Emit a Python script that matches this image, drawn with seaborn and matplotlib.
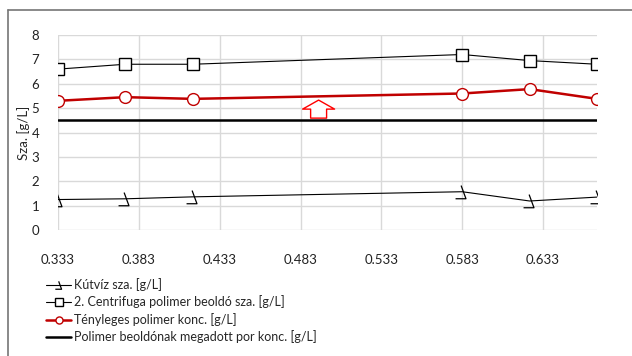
import numpy as np
import matplotlib
matplotlib.use("Agg")
import matplotlib.pyplot as plt
import seaborn as sns
from matplotlib.path import Path
from matplotlib.lines import Line2D

# data
x = [1/3, 0.375, 5/12, 7/12, 0.625, 2/3]
kutviz = [1.25, 1.28, 1.36, 1.57, 1.19, 1.35]
centrifuga = [6.6, 6.8, 6.8, 7.2, 6.95, 6.8]
tenyleges = [5.3, 5.45, 5.38, 5.6, 5.78, 5.38]
megadott = [4.5, 4.5, 4.5, 4.5, 4.5, 4.5]

labels = ["Kútvíz sza. [g/L]",
          "2. Centrifuga polimer beoldó sza. [g/L]",
          "Tényleges polimer konc. [g/L]",
          "Polimer beoldónak megadott por konc. [g/L]"]
xticks = [1/3 + 0.05 * k for k in range(7)]

sns.set_style("whitegrid")
plt.rcParams['font.family'] = ['Lato', 'DejaVu Sans']
plt.rcParams['font.size'] = 9

# slash + underscore marker like the Excel one
slash = Path([(-0.2, 1.0), (0.5, -0.9), (-1.0, -0.9)],
             [Path.MOVETO, Path.LINETO, Path.LINETO])

fig = plt.figure(figsize=(6.32, 3.56), dpi=100)
ax = fig.add_axes([58/632, 1 - 230/356, (597 - 58)/632, (230 - 35)/356])

sns.lineplot(x=x, y=kutviz, ax=ax, color="black", lw=0.8, marker=slash,
             markersize=10, mew=0.9, mfc="none", mec="black", label=labels[0])
sns.lineplot(x=x, y=centrifuga, ax=ax, color="black", lw=0.8, marker="s",
             markersize=8.5, mew=1.0, mfc="white", mec="black", label=labels[1])
sns.lineplot(x=x, y=tenyleges, ax=ax, color="#c00000", lw=1.8, marker="o",
             markersize=8.5, mew=1.0, mfc="white", mec="#c00000", label=labels[2])
sns.lineplot(x=x, y=megadott, ax=ax, color="black", lw=1.8, label=labels[3])

# red outline arrow pointing up
ax.annotate("", xy=(0.4945, 5.33), xytext=(0.4945, 4.59),
            arrowprops=dict(arrowstyle="simple,head_width=2.3,head_length=0.65,tail_width=1.15",
                            mutation_scale=10, shrinkA=0, shrinkB=0,
                            fc="white", ec="red", lw=1.0))

ax.set_xlim(1/3, 2/3)
ax.set_ylim(0, 8)
ax.set_xticks(xticks)
ax.set_xticklabels([f"{v:.3f}" for v in xticks])
ax.set_yticks(range(9))
ax.tick_params(axis="x", pad=14, labelsize=9.5, colors="#222222")
ax.tick_params(axis="y", pad=10, labelsize=9.5, colors="#222222")
ax.grid(True, color="#d9d9d9", lw=1.0)
for s in ax.spines.values():
    s.set_visible(False)
ax.set_ylabel("Sza. [g/L]", fontsize=9.5, labelpad=1)

ax.get_legend().remove()
h, l = ax.get_legend_handles_labels()
fig.legend(h, l, loc="upper left", bbox_to_anchor=(41/632, 1 - 273/356),
           frameon=False, handlelength=2.0, handletextpad=0.2, markerscale=0.6,
           labelspacing=0.36, borderaxespad=0, fontsize=9)

# outer chart frame (top and left edges visible)
fig.add_artist(Line2D([8/632, 1], [1 - 10/356, 1 - 10/356], color="#767676", lw=1.2))
fig.add_artist(Line2D([8/632, 8/632], [0, 1 - 10/356], color="#767676", lw=1.2))

fig.savefig("out.png", dpi=100)
